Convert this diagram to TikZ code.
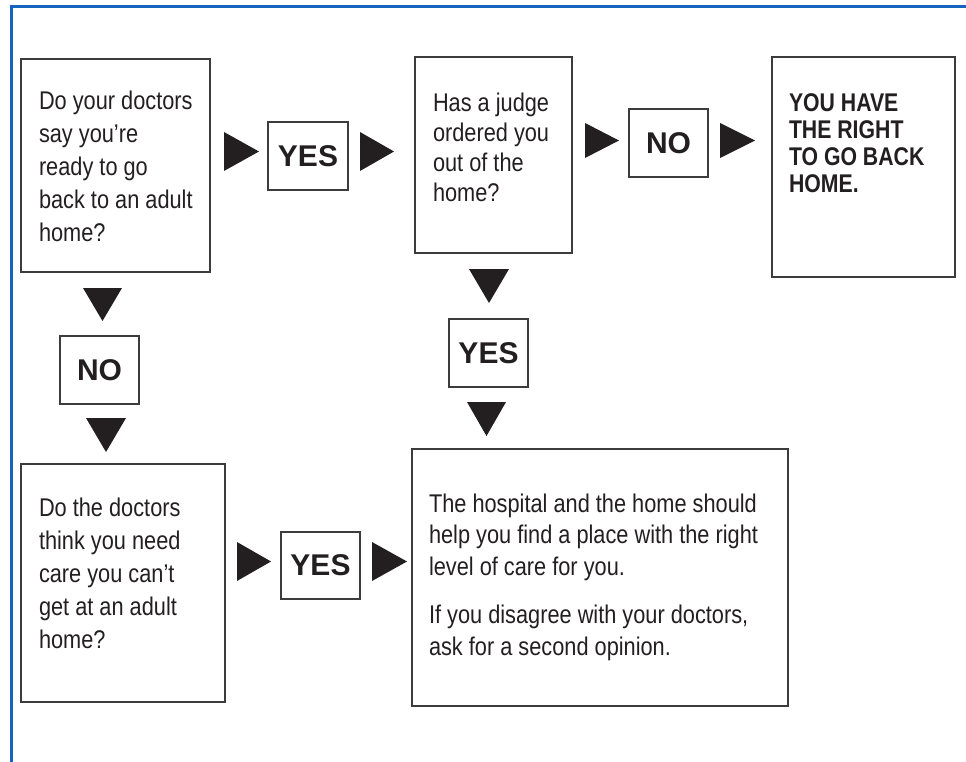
\documentclass[tikz,border=0pt]{standalone}
\usepackage{fontspec}
\setmainfont{Liberation Sans}
\newfontfamily\condfont{Liberation Sans}[FakeStretch=0.85]
\newfontfamily\condboldfont{Liberation Sans Bold}[FakeStretch=0.83]
\newcommand{\tlines}[1]{\vtop{\halign{##\hfil\cr#1\crcr}}}
\definecolor{ink}{HTML}{231F20}
\definecolor{edge}{HTML}{3C3C3C}
\definecolor{frameblue}{HTML}{1565C0}
\tikzset{
  box/.style={draw=edge, line width=1.2pt, anchor=north west, inner sep=0pt, outer sep=0pt},
  txt/.style={inner sep=0pt, outer sep=0pt, text=ink, anchor=base west},
  qfont/.style={font=\condfont\fontsize{25.6}{33}\selectfont},
  ans/.style={box, minimum width=79pt, minimum height=68pt, text=ink, font=\bfseries\fontsize{30}{30}\selectfont},
  tri/.style={fill=ink}
}
\begin{document}
\begin{tikzpicture}[x=1pt,y=-1pt]
\useasboundingbox (0,0) rectangle (966,762);
% frame
\draw[frameblue, line width=3pt] (11,762) -- (11,7) -- (966,7);
% question / result boxes
\node[box, minimum width=189pt, minimum height=213pt] (q1) at (21,59) {};
\node[box, minimum width=157pt, minimum height=196pt] (q2) at (415,57) {};
\node[box, minimum width=183pt, minimum height=220pt] (r3) at (772,57) {};
\node[box, minimum width=204pt, minimum height=238pt] (q4) at (21,464) {};
\node[box, minimum width=376pt, minimum height=257pt] (big) at (412,449) {};
% answer boxes
\node[ans, minimum width=80pt] (yes1) at (268,122) {YES};
\node[ans] (no1) at (629,109) {NO};
\node[ans] (no2) at (60,336) {NO};
\node[ans] (yes2) at (449,319) {YES};
\node[ans, minimum height=67pt] (yes3) at (281,532) {YES};
% texts
\node[txt, qfont] (q1t) at (39,110) {\tlines{Do your doctors\cr say you’re\cr ready to go\cr back to an adult\cr home?}};
\node[txt, font=\condfont\fontsize{25.6}{30}\selectfont] (q2t) at (433,112) {\tlines{Has a judge\cr ordered you\cr out of the\cr home?}};
\node[txt, font=\condboldfont\fontsize{25.6}{26.7}\selectfont] (r3t) at (789,112) {\tlines{YOU HAVE\cr THE RIGHT\cr TO GO BACK\cr HOME.}};
\node[txt, qfont] (q4t) at (39,516) {\tlines{Do the doctors\cr think you need\cr care you can’t\cr get at an adult\cr home?}};
\node[txt, font=\condfont\fontsize{25.6}{31.7}\selectfont] (bigt) at (429,512) {\tlines{The hospital and the home should\cr help you find a place with the right\cr level of care for you.\cr\noalign{\vskip 16.5pt} If you disagree with your doctors,\cr ask for a second opinion.}};
% arrow heads (right)
\fill[tri] (224,132) -- (259,151.5) -- (224,171) -- cycle;
\fill[tri] (360,132) -- (394,151.5) -- (360,171) -- cycle;
\fill[tri] (585,123) -- (619,140.5) -- (585,158) -- cycle;
\fill[tri] (720,123) -- (755,140.5) -- (720,158) -- cycle;
\fill[tri] (237,542) -- (271,561.5) -- (237,581) -- cycle;
\fill[tri] (372,542) -- (407,561.5) -- (372,581) -- cycle;
% arrow heads (down)
\fill[tri] (83,288) -- (122,288) -- (102.5,321) -- cycle;
\fill[tri] (86,418) -- (126,418) -- (106,452) -- cycle;
\fill[tri] (469,269) -- (509,269) -- (489,303) -- cycle;
\fill[tri] (467,402) -- (506,402) -- (486.5,436) -- cycle;
\end{tikzpicture}
\end{document}
